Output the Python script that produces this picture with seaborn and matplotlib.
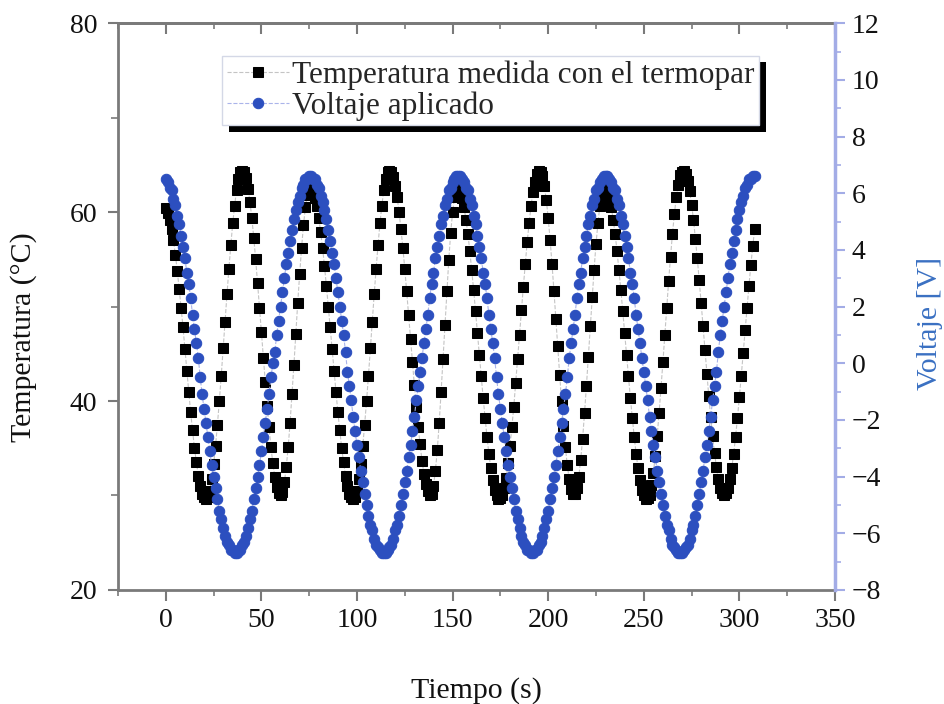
import numpy as np
import pandas as pd
import seaborn as sns
import matplotlib
matplotlib.use("Agg")
import matplotlib.pyplot as plt
import matplotlib.patheffects as pe
from matplotlib.ticker import MultipleLocator

# one sample per second, t = 0 ... 308 s
temperatura = [
    60.4, 59.9, 59.2, 58.2, 57.0, 55.5, 53.8, 51.9, 49.9, 47.8, 45.5, 43.2, 41.0, 38.8, 36.9, 35.0, 33.5, 32.1, 31.0, 30.2, 29.8,
    29.6,
    29.8, 30.5, 31.7, 33.3, 35.2, 37.5, 40.0, 42.7, 45.6, 48.4, 51.3, 54.0, 56.5, 58.8, 60.7, 62.3, 63.5, 64.2, 64.4,
    64.2, 63.6, 62.5, 61.1, 59.4, 57.3, 55.0, 52.5, 49.9, 47.3, 44.6, 42.0, 39.5, 37.2, 35.1, 33.4, 32.0, 30.9, 30.3,
    30.1,
    30.4, 31.4, 33.0, 35.1, 37.7, 40.7, 43.8, 47.1, 50.4, 53.4, 56.2, 58.6, 60.5, 61.8, 62.4,
    62.5, 62.1, 61.5, 60.6, 59.4, 57.9, 56.2, 54.3, 52.2, 50.0, 47.8, 45.5, 43.2, 41.0, 38.8, 36.9, 35.0, 33.5, 32.1, 31.0, 30.2, 29.8,
    29.6,
    29.8, 30.5, 31.7, 33.3, 35.2, 37.5, 40.0, 42.7, 45.6, 48.4, 51.3, 54.0, 56.5, 58.8, 60.7, 62.3, 63.5, 64.2, 64.4,
    64.2, 63.7, 62.8, 61.6, 60.0, 58.2, 56.2, 54.0, 51.6, 49.1, 46.6, 44.1, 41.7, 39.4, 37.3, 35.4, 33.7, 32.3, 31.2, 30.5, 30.1,
    30.2, 31.0, 32.6, 34.8, 37.7, 41.0, 44.5, 48.1, 51.7, 54.9, 57.8, 60.0, 61.6, 62.4,
    62.5, 62.1, 61.5, 60.5, 59.2, 57.7, 55.9, 53.9, 51.8, 49.5, 47.2, 44.9, 42.6, 40.3, 38.2, 36.2, 34.4, 32.9, 31.6, 30.6, 30.0, 29.6,
    29.7, 30.0, 30.8, 31.9, 33.4, 35.2, 37.2, 39.4, 41.9, 44.4, 47.0, 49.6, 52.1, 54.5, 56.8, 58.8, 60.6, 62.1, 63.2, 64.0, 64.4,
    64.3, 63.8, 62.8, 61.3, 59.4, 57.1, 54.5, 51.7, 48.7, 45.8, 42.8, 40.0, 37.4, 35.1, 33.2, 31.7, 30.7, 30.2,
    30.2, 30.8, 32.0, 33.8, 36.0, 38.7, 41.6, 44.7, 47.9, 51.0, 53.9, 56.6, 58.8, 60.6, 61.8, 62.4,
    62.5, 62.1, 61.5, 60.5, 59.2, 57.7, 55.9, 53.9, 51.8, 49.5, 47.2, 44.9, 42.6, 40.3, 38.2, 36.2, 34.4, 32.9, 31.6, 30.6, 30.0, 29.6,
    29.7, 30.1, 31.1, 32.4, 34.2, 36.3, 38.7, 41.4, 44.1, 47.0, 49.9, 52.7, 55.3, 57.7, 59.8, 61.6, 62.9, 63.9, 64.3,
    64.4, 64.0, 63.3, 62.2, 60.8, 59.2, 57.2, 55.1, 52.8, 50.4, 47.9, 45.4, 42.9, 40.5, 38.3, 36.3, 34.5, 33.0, 31.7, 30.8, 30.3,
    30.1,
    30.3, 30.8, 31.7, 32.9, 34.4, 36.2, 38.2, 40.4, 42.7, 45.1, 47.5, 49.9, 52.2, 54.4, 56.4, 58.2,
]

voltaje = [
    6.5, 6.4, 6.2, 6.1, 5.8, 5.6, 5.2, 4.9, 4.5, 4.1, 3.7, 3.2, 2.8, 2.3, 1.7, 1.2, 0.7, 0.2,
    -0.5, -1.1, -1.6, -2.1, -2.6, -3.1, -3.6, -4.0, -4.4, -4.8, -5.2, -5.5, -5.8, -6.1, -6.3, -6.4, -6.6, -6.6, -6.7,
    -6.7, -6.6, -6.6, -6.4, -6.3, -6.1, -5.8, -5.5, -5.2, -4.8, -4.4, -4.0, -3.6, -3.1, -2.6, -2.1, -1.6, -1.1, -0.5, 0.0,
    0.4, 1.0, 1.5, 2.0, 2.5, 3.0, 3.5, 3.9, 4.3, 4.7, 5.1, 5.4, 5.7, 5.9, 6.2, 6.3, 6.5, 6.5, 6.6,
    6.6, 6.5, 6.5, 6.3, 6.2, 5.9, 5.7, 5.4, 5.1, 4.7, 4.3, 3.9, 3.5, 3.0, 2.5, 2.0, 1.5, 1.0, 0.4,
    -0.3, -0.8, -1.3, -1.9, -2.4, -2.9, -3.3, -3.8, -4.2, -4.6, -5.0, -5.4, -5.7, -5.9, -6.2, -6.4, -6.5, -6.6, -6.7, -6.7,
    -6.7, -6.6, -6.5, -6.4, -6.2, -5.9, -5.7, -5.4, -5.0, -4.6, -4.2, -3.8, -3.3, -2.9, -2.4, -1.9, -1.3, -0.8, -0.3,
    0.2, 0.7, 1.2, 1.7, 2.3, 2.8, 3.2, 3.7, 4.1, 4.5, 4.9, 5.2, 5.6, 5.8, 6.1, 6.2, 6.4, 6.5, 6.6, 6.6,
    6.6, 6.5, 6.4, 6.2, 6.1, 5.8, 5.6, 5.2, 4.9, 4.5, 4.1, 3.7, 3.2, 2.8, 2.3, 1.7, 1.2, 0.7, 0.2,
    -0.5, -1.1, -1.6, -2.1, -2.6, -3.1, -3.6, -4.0, -4.4, -4.8, -5.2, -5.5, -5.8, -6.1, -6.3, -6.4, -6.6, -6.6, -6.7,
    -6.7, -6.6, -6.6, -6.4, -6.3, -6.1, -5.8, -5.5, -5.2, -4.8, -4.4, -4.0, -3.6, -3.1, -2.6, -2.1, -1.6, -1.1, -0.5,
    0.2, 0.7, 1.2, 1.7, 2.3, 2.8, 3.2, 3.7, 4.1, 4.5, 4.9, 5.2, 5.6, 5.8, 6.1, 6.2, 6.4, 6.5, 6.6, 6.6,
    6.6, 6.5, 6.4, 6.2, 6.1, 5.8, 5.6, 5.2, 4.9, 4.5, 4.1, 3.7, 3.2, 2.8, 2.3, 1.7, 1.2, 0.7, 0.2,
    -0.3, -0.8, -1.3, -1.9, -2.4, -2.9, -3.3, -3.8, -4.2, -4.6, -5.0, -5.4, -5.7, -5.9, -6.2, -6.4, -6.5, -6.6, -6.7, -6.7,
    -6.7, -6.6, -6.5, -6.4, -6.2, -5.9, -5.7, -5.4, -5.0, -4.6, -4.2, -3.8, -3.3, -2.9, -2.4, -1.9, -1.3, -0.8, -0.3,
    0.4, 1.0, 1.5, 2.0, 2.5, 3.0, 3.5, 3.9, 4.3, 4.7, 5.1, 5.4, 5.7, 5.9, 6.2, 6.3, 6.5, 6.5, 6.6, 6.6,
]

tiempo = np.arange(len(temperatura))
df = pd.DataFrame({"tiempo": tiempo, "temperatura": temperatura, "voltaje": voltaje})

sns.set_style("ticks")
plt.rcParams["font.family"] = ["Liberation Serif", "DejaVu Serif"]

gris = "#7a7a7a"
azul = "#2c4fbf"
azul_eje = "#a3ace6"

fig, ax = plt.subplots(figsize=(9.44, 7.04), dpi=100)
fig.subplots_adjust(left=0.125, right=0.8845, top=0.967, bottom=0.162)
ax2 = ax.twinx()

sns.lineplot(data=df, x="tiempo", y="temperatura", ax=ax, estimator=None,
             color="#c4c4c4", lw=0.8, linestyle="--", marker="s", markersize=6.5,
             markerfacecolor="black", markeredgecolor="black",
             label="Temperatura medida con el termopar", legend=False)
sns.lineplot(data=df, x="tiempo", y="voltaje", ax=ax2, estimator=None,
             color="#aab4ea", lw=0.8, linestyle="--", marker="o", markersize=7.5,
             markerfacecolor=azul, markeredgecolor=azul,
             label="Voltaje aplicado", legend=False)

ax.set_xlim(-25, 350)
ax.set_ylim(20, 80)
ax2.set_ylim(-8, 12)

ax.xaxis.set_major_locator(MultipleLocator(50))
ax.xaxis.set_minor_locator(MultipleLocator(25))
ax.yaxis.set_major_locator(MultipleLocator(20))
ax.yaxis.set_minor_locator(MultipleLocator(10))
ax2.yaxis.set_major_locator(MultipleLocator(2))
ax2.yaxis.set_minor_locator(MultipleLocator(1))

# ticks pointing inward on the top edge
top = ax.secondary_xaxis("top")
top.xaxis.set_major_locator(MultipleLocator(50))
top.xaxis.set_minor_locator(MultipleLocator(25))
top.tick_params(which="major", direction="in", length=8, width=1.5, color=gris, labeltop=False)
top.tick_params(which="minor", direction="in", length=4, width=1.2, color=gris)
for s in top.spines.values():
    s.set_color(gris)
    s.set_linewidth(2)

ax.tick_params(axis="x", which="major", direction="out", length=8, width=1.5, color=gris,
               labelsize=20, labelcolor="#111111", pad=5)
ax.tick_params(axis="x", which="minor", direction="out", length=4, width=1.2, color=gris)
ax.tick_params(axis="y", which="major", direction="out", length=7, width=1.5, color=gris,
               labelsize=20, labelcolor="#111111", pad=8)
ax.tick_params(axis="y", which="minor", direction="out", length=5, width=1.2, color=gris)
ax2.tick_params(axis="y", which="major", direction="out", length=7, width=1.5, color=azul_eje,
                labelsize=20, labelcolor="#111111", pad=5)
ax2.tick_params(axis="y", which="minor", direction="out", length=4, width=1.2, color=azul_eje)

for lado in ["left", "bottom", "top"]:
    ax.spines[lado].set_color(gris)
    ax.spines[lado].set_linewidth(2)
    ax2.spines[lado].set_visible(False)
ax.spines["right"].set_visible(False)
ax2.spines["right"].set_color(azul_eje)
ax2.spines["right"].set_linewidth(2.5)

ax.set_xlabel("Tiempo (s)", fontsize=21.5, color="#111111", labelpad=32)
ax.set_ylabel("Temperatura (°C)", fontsize=21.5, color="#111111")
ax.yaxis.set_label_coords(-0.113, 0.446)
ax2.set_ylabel("Voltaje [V]", fontsize=21.5, color="#3a70c2")
ax2.yaxis.set_label_coords(1.114, 0.47)

h1, l1 = ax.get_legend_handles_labels()
h2, l2 = ax2.get_legend_handles_labels()
leg = ax2.legend(h1 + h2, l1 + l2, loc="upper left", bbox_to_anchor=(0.145, 0.943),
                 borderaxespad=0, fontsize=22.5, frameon=True, fancybox=False,
                 framealpha=1, edgecolor="#d4d8e6", labelspacing=0.05,
                 borderpad=0.15, handlelength=2.0, handletextpad=0.1)
leg.get_frame().set_linewidth(1)
leg.get_frame().set_path_effects([
    pe.SimplePatchShadow(offset=(5, -5), shadow_rgbFace="black", alpha=1),
    pe.Normal(),
])

fig.savefig("out.png", dpi=100)
